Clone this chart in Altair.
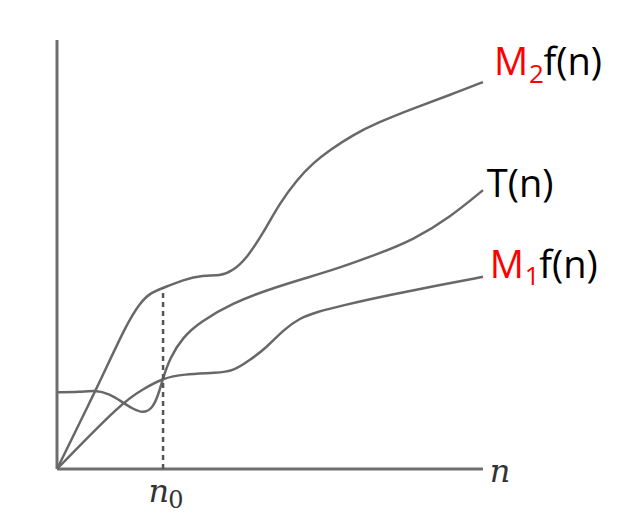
import altair as alt
import pandas as pd

# ---- data (normalised 0..100 on both axes) ----
m2_x = [0, 9.4, 16.4, 19.5, 21.8, 24.9, 29.6, 34.3, 38.3, 41.3, 44.6, 48.4, 52.3, 56.3, 60.1, 64.1, 69.5, 75.1, 84.5, 92.3, 100]
m2_y = [0, 18.9, 34.0, 38.7, 41.0, 42.2, 44.1, 45.2, 45.0, 46.2, 49.2, 55.0, 62.0, 67.4, 71.3, 74.4, 77.9, 80.7, 84.4, 87.2, 90.2]

t_x = [0, 5.4, 8.9, 12.4, 15.3, 17.8, 20.2, 22.3, 23.7, 24.9, 26.5, 29.6, 33.6, 41.3, 49.3, 57.0, 66.4, 75.8, 83.6, 92.3, 100]
t_y = [17.9, 17.9, 18.4, 17.5, 15.6, 14.0, 13.0, 14.0, 17.0, 21.2, 25.9, 30.8, 34.3, 38.7, 41.7, 44.1, 46.9, 50.3, 53.4, 58.7, 65.0]

m1_x = [0, 15.3, 20.2, 24.9, 29.6, 37.6, 41.3, 45.3, 49.3, 53.1, 57.0, 61.0, 66.4, 78.2, 89.9, 100]
m1_y = [0, 15.6, 18.6, 21.2, 22.1, 22.4, 22.8, 25.4, 28.4, 32.4, 35.2, 36.6, 38.0, 40.6, 42.9, 44.8]

n0 = 24.9
n0_top = 42.2

LINE = "#686868"

rows = []
for name, xs_, ys_ in [("M2f", m2_x, m2_y), ("T", t_x, t_y), ("M1f", m1_x, m1_y)]:
    for i, (a, b) in enumerate(zip(xs_, ys_)):
        rows.append({"series": name, "x": a, "y": b, "i": i})
df = pd.DataFrame(rows)

xs = alt.Scale(domain=[0, 100])
ys = alt.Scale(domain=[0, 100])

lines = alt.Chart(df).mark_line(
    interpolate="basis", color=LINE, strokeWidth=2.5
).encode(
    x=alt.X("x:Q", scale=xs, axis=None),
    y=alt.Y("y:Q", scale=ys, axis=None),
    detail="series:N",
    order="i:Q",
)

# axes drawn as rules
axes_df = pd.DataFrame([
    {"x": 0, "x2": 100, "y": 0, "y2": 0},
    {"x": 0, "x2": 0, "y": 0, "y2": 100},
])
axes = alt.Chart(axes_df).mark_rule(color="#6e6e6e", strokeWidth=3).encode(
    x=alt.X("x:Q", scale=xs, axis=None), x2="x2:Q",
    y=alt.Y("y:Q", scale=ys, axis=None), y2="y2:Q",
)

dash = alt.Chart(pd.DataFrame({"x": [n0], "y": [0], "y2": [n0_top]})).mark_rule(
    color="#555555", strokeWidth=2.5, strokeDash=[5, 4]
).encode(
    x=alt.X("x:Q", scale=xs, axis=None),
    y=alt.Y("y:Q", scale=ys, axis=None), y2="y2:Q",
)

# right-hand labels: pieces (text, x, y, colour, size)
lab_text = ["M", "2", "f(n)", "T(n)", "M", "1", "f(n)"]
lab_x = [102.6, 110.8, 114.2, 100.9, 101.6, 109.8, 113.2]
lab_y = [91.8, 90.0, 91.8, 63.4, 44.5, 42.9, 44.5]
lab_c = ["#ff0000", "#ff0000", "#000000", "#000000", "#ff0000", "#ff0000", "#000000"]
lab_s = [38, 26, 38, 38, 38, 26, 38]
lab_df = pd.DataFrame({"t": lab_text, "x": lab_x, "y": lab_y, "c": lab_c, "s": lab_s})

labels = alt.Chart(lab_df).mark_text(
    align="left", baseline="alphabetic", font="Open Sans"
).encode(
    x=alt.X("x:Q", scale=xs, axis=None),
    y=alt.Y("y:Q", scale=ys, axis=None),
    text="t:N",
    color=alt.Color("c:N", scale=None),
    size=alt.Size("s:Q", scale=None),
)

# axis letters n and n0
ax_df = pd.DataFrame({
    "t": ["n", "n"],
    "x": [104.0, 23.9],
    "y": [-3.0, -7.8],
})
ax_labels = alt.Chart(ax_df).mark_text(
    align="center", baseline="alphabetic", font="DejaVu Serif",
    fontStyle="italic", fontSize=32, color="#333333"
).encode(
    x=alt.X("x:Q", scale=xs, axis=None),
    y=alt.Y("y:Q", scale=ys, axis=None),
    text="t:N",
)
sub_df = pd.DataFrame({"t": ["0"], "x": [27.9], "y": [-9.0]})
sub0 = alt.Chart(sub_df).mark_text(
    align="center", baseline="alphabetic", font="DejaVu Serif",
    fontSize=24, color="#333333"
).encode(
    x=alt.X("x:Q", scale=xs, axis=None),
    y=alt.Y("y:Q", scale=ys, axis=None),
    text="t:N",
)

chart = alt.layer(axes, lines, dash, labels, ax_labels, sub0).properties(
    width=426, height=429,
    padding={"left": 49, "top": 32, "right": 122, "bottom": 42},
    autosize=alt.AutoSizeParams(type="none"),
    background="white",
).configure_view(stroke=None)

chart.save("out.html", embed_options={"renderer": "svg", "actions": False})
